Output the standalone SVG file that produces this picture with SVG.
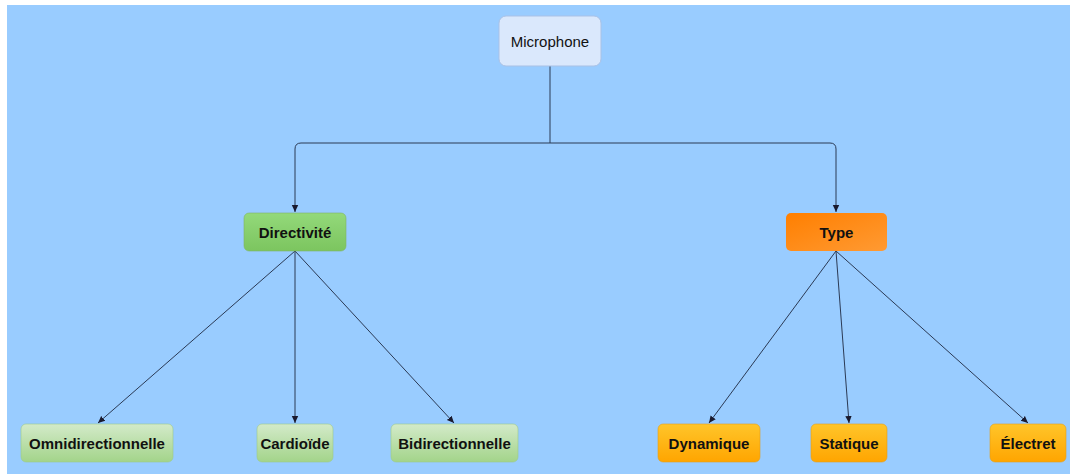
<svg xmlns="http://www.w3.org/2000/svg" width="1070" height="476" viewBox="0 0 1070 476">
  <defs>
    <linearGradient id="gGreen" x1="0" y1="0" x2="0" y2="1">
      <stop offset="0" stop-color="#93d97a"/>
      <stop offset="1" stop-color="#7cc55f"/>
    </linearGradient>
    <linearGradient id="gLightGreen" x1="0" y1="0" x2="0" y2="1">
      <stop offset="0" stop-color="#d3eac9"/>
      <stop offset="1" stop-color="#a3d48a"/>
    </linearGradient>
    <linearGradient id="gOrange" x1="0" y1="0" x2="1" y2="1">
      <stop offset="0" stop-color="#ff7f00"/>
      <stop offset="1" stop-color="#ff9a33"/>
    </linearGradient>
    <linearGradient id="gYellow" x1="0" y1="0" x2="0" y2="1">
      <stop offset="0" stop-color="#ffc52a"/>
      <stop offset="1" stop-color="#ffa500"/>
    </linearGradient>
    <marker id="arrow" markerWidth="8" markerHeight="8" refX="7" refY="4" orient="auto" markerUnits="userSpaceOnUse">
      <path d="M0,0.8 L7,4 L0,7.2 Z" fill="#1a1a2e"/>
    </marker>
  </defs>
  <style>
    .conn { fill: none; stroke: #2b3a55; stroke-width: 1; marker-end: url(#arrow); }
    .lbl { font-family: "Liberation Sans", Arial, sans-serif; font-size: 15px; text-anchor: middle; dominant-baseline: central; fill: #111; }
    .b { font-weight: bold; }
  </style>

  <rect x="0" y="0" width="1070" height="476" fill="#ffffff"/>
  <rect x="7" y="5" width="1063" height="469" fill="#99ccff"/>

  <g id="connectors">
    <path class="conn" d="M550,66 V143 H301 Q295,143 295,149 V212"/>
    <path class="conn" d="M550,143 H830 Q836,143 836,149 V212"/>
    <path class="conn" d="M295,251 L98,423"/>
    <path class="conn" d="M295,251 V423"/>
    <path class="conn" d="M295,251 L454,423"/>
    <path class="conn" d="M836,251 L709,423"/>
    <path class="conn" d="M836,251 L849,423"/>
    <path class="conn" d="M836,251 L1028,423"/>
  </g>

  <g id="node-microphone">
    <rect x="499" y="16" width="102" height="50" rx="7" fill="#dae8fc" stroke="#a9c1e6"/>
    <text class="lbl" x="550" y="41">Microphone</text>
  </g>
  <g id="node-directivite">
    <rect x="244" y="213" width="102" height="38" rx="5" fill="url(#gGreen)" stroke="#82b366" stroke-width="0.6"/>
    <text class="lbl b" x="295" y="232">Directivité</text>
  </g>
  <g id="node-type">
    <rect x="786" y="213" width="101" height="38" rx="5" fill="url(#gOrange)"/>
    <text class="lbl b" x="836.5" y="232">Type</text>
  </g>
  <g id="node-omni">
    <rect x="21" y="424" width="152" height="38" rx="5" fill="url(#gLightGreen)" stroke="#9cc98a" stroke-width="0.6"/>
    <text class="lbl b" x="97" y="443">Omnidirectionnelle</text>
  </g>
  <g id="node-cardioide">
    <rect x="257" y="424" width="76" height="38" rx="5" fill="url(#gLightGreen)" stroke="#9cc98a" stroke-width="0.6"/>
    <text class="lbl b" x="295" y="443">Cardioïde</text>
  </g>
  <g id="node-bidir">
    <rect x="391" y="424" width="127" height="38" rx="5" fill="url(#gLightGreen)" stroke="#9cc98a" stroke-width="0.6"/>
    <text class="lbl b" x="454.5" y="443">Bidirectionnelle</text>
  </g>
  <g id="node-dynamique">
    <rect x="658" y="424" width="102" height="38" rx="5" fill="url(#gYellow)" stroke="#e0a020" stroke-width="0.6"/>
    <text class="lbl b" x="709" y="443">Dynamique</text>
  </g>
  <g id="node-statique">
    <rect x="811" y="424" width="76" height="38" rx="5" fill="url(#gYellow)" stroke="#e0a020" stroke-width="0.6"/>
    <text class="lbl b" x="849" y="443">Statique</text>
  </g>
  <g id="node-electret">
    <rect x="990" y="424" width="76" height="38" rx="5" fill="url(#gYellow)" stroke="#e0a020" stroke-width="0.6"/>
    <text class="lbl b" x="1028" y="443">Électret</text>
  </g>
</svg>
